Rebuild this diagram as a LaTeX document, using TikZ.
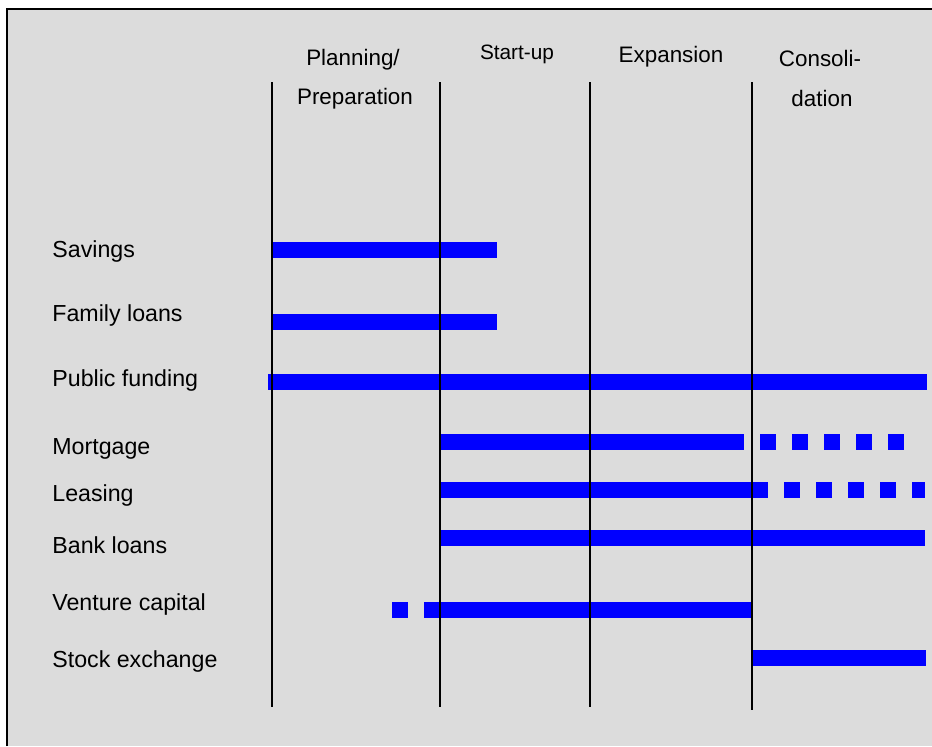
\documentclass[tikz,border=0pt]{standalone}
\usepackage{fontspec}
\setmainfont{Liberation Sans}
\usetikzlibrary{positioning}
\definecolor{panelgray}{RGB}{220,220,220}
\definecolor{barblue}{RGB}{0,0,255}

\begin{document}
\begin{tikzpicture}[x=0.5pt, y=-0.5pt,
    phase/.style = {font=\fontsize{11.2}{13}\selectfont, anchor=base, inner sep=0pt},
    source/.style = {font=\fontsize{11.6}{14}\selectfont, anchor=base west, inner sep=0pt},
    bar/.style = {fill=barblue},
    divider/.style = {line width=0.85pt}]
          % Frame
          \useasboundingbox (0,0) rectangle (932,746);
          \fill[white] (0,0) rectangle (932,746);
          \fill[panelgray] (7,9) rectangle (932,746);
          \draw[line width=1.2pt] (7,746) -- (7,9) -- (932,9);
          % Phase headings
          \node[phase] (plan) at (353,65) {Planning/};
          \node[phase] (prep) at (355,104) {Preparation};
          \node[phase, font=\fontsize{10.4}{12}\selectfont] (start) at (517,59) {Start-up};
          \node[phase] (expan) at (671,62) {Expansion};
          \node[phase] (conso) at (820,66) {Consoli-};
          \node[phase] (dation) at (822,106) {dation};
          % Sources of finance
          \node[source] (savings) at (52,257) {Savings};
          \node[source] (family) at (52,321) {Family loans};
          \node[source] (public) at (52,386) {Public funding};
          \node[source] (mortgage) at (52,454) {Mortgage};
          \node[source] (leasing) at (52,501) {Leasing};
          \node[source] (bank) at (52,553) {Bank loans};
          \node[source] (venture) at (52,610) {Venture capital};
          \node[source] (stock) at (52,667) {Stock exchange};
          % Bars
          \foreach \ya/\xa/\xb in {242/272/497, 314/272/497, 374/268/927,
                                   434/440/744, 482/440/768, 530/440/925,
                                   602/424/752, 650/752/926}
            \fill[bar] (\xa,\ya) rectangle (\xb,\ya+16);
          % Dotted parts
          \foreach \x in {760,792,...,888}
            \fill[bar] (\x,434) rectangle (\x+16,450);
          \foreach \x in {784,816,...,880}
            \fill[bar] (\x,482) rectangle (\x+16,498);
          \fill[bar] (912,482) rectangle (925,498);
          \fill[bar] (392,602) rectangle (408,618);
          % Phase dividers
          \foreach \name/\x/\yend in {pp/272/707, su/440/707, ex/590/707, co/752/710} {
            \coordinate (\name-top) at (\x,82);
            \coordinate (\name-bot) at (\x,\yend);
            \draw[divider] (\name-top) -- (\name-bot);
          }
        \end{tikzpicture}
\end{document}
